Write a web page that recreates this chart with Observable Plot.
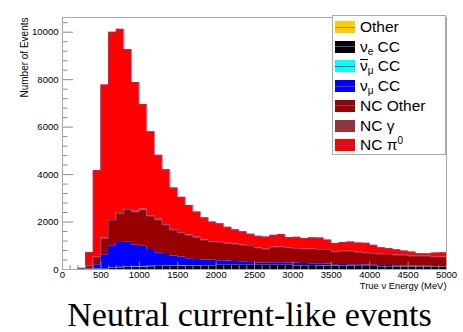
<!DOCTYPE html>
<html>
<head>
<meta charset="utf-8">
<script src="https://cdn.jsdelivr.net/npm/d3@7"></script>
<script src="https://cdn.jsdelivr.net/npm/@observablehq/plot@0.6"></script>
<style>
  body { margin: 0; background: #fff; }
  #wrap { position: relative; width: 463px; height: 332px; font-family: "Liberation Sans", Arial, sans-serif; color: #000; }
  #chart svg { display: block; }
  #legend { position: absolute; left: 332px; top: 15px; width: 114px; height: 140px; border: 1px solid #aaa; background: #fff; box-sizing: border-box; }
  .row { position: absolute; left: 2px; height: 20px; display: flex; align-items: center; font-size: 15.5px; white-space: nowrap; }
  .sw { width: 20px; height: 12px; position: relative; margin-right: 5px; flex: none; }
  .sw::after { content: ""; position: absolute; left: 0; right: 0; top: 5.5px; height: 1px; background: var(--line); }
  .row sub { font-size: 10px; vertical-align: -3px; line-height: 0; }
  .row sup { font-size: 10px; vertical-align: 6px; line-height: 0; }
  .bar { display: inline-block; border-top: 1px solid #000; line-height: 11px; padding-top: 0; }
  #caption { position: absolute; top: 297px; left: 0; width: 463px; padding-left: 36px; box-sizing: border-box; text-align: center; font-family: "Liberation Serif", "DejaVu Serif", serif; font-size: 34px; line-height: 36px; }
</style>
</head>
<body>
<div id="wrap">
  <div id="chart"></div>
  <div id="legend"></div>
  <div id="caption">Neutral current-like events</div>
</div>
<script>
// Lower edges of the 100 MeV energy bins (0 – 5000 MeV)
const binLow = [
  0, 100, 200, 300, 400, 500, 600, 700, 800, 900,
  1000, 1100, 1200, 1300, 1400, 1500, 1600, 1700, 1800, 1900,
  2000, 2100, 2200, 2300, 2400, 2500, 2600, 2700, 2800, 2900,
  3000, 3100, 3200, 3300, 3400, 3500, 3600, 3700, 3800, 3900,
  4000, 4100, 4200, 4300, 4400, 4500, 4600, 4700, 4800, 4900
];
const binWidth = 100;

// Event counts per bin for each interaction category (bottom of the stack first)
const other = [
  0, 0, 0, 0, 0, 0, 0, 0, 0, 0,
  0, 0, 0, 0, 0, 0, 0, 0, 0, 0,
  0, 0, 0, 0, 0, 0, 0, 0, 0, 0,
  0, 0, 0, 0, 0, 0, 0, 0, 0, 0,
  0, 0, 0, 0, 0, 0, 0, 0, 0, 0
];
const nueCC = [
  0, 0, 0, 5, 15, 30, 50, 70, 90, 100,
  110, 120, 125, 130, 135, 140, 145, 150, 155, 160,
  165, 165, 170, 170, 170, 170, 165, 170, 170, 165,
  160, 160, 155, 150, 150, 140, 140, 135, 130, 130,
  125, 120, 115, 110, 110, 105, 100, 100, 95, 95
];
const numubarCC = [
  0, 0, 0, 2, 6, 12, 18, 20, 20, 20,
  20, 18, 16, 15, 14, 13, 12, 12, 11, 11,
  10, 10, 10, 10, 10, 9, 9, 9, 9, 9,
  9, 8, 8, 8, 8, 8, 8, 8, 7, 7,
  7, 7, 7, 7, 6, 6, 6, 6, 6, 6
];
const numuCC = [
  0, 0, 0, 23, 179, 578, 932, 1043, 1040, 899,
  855, 702, 567, 492, 417, 369, 296, 258, 234, 219,
  195, 179, 160, 150, 120, 91, 86, 101, 106, 96,
  91, 82, 82, 82, 72, 52, 62, 62, 58, 53,
  48, 43, 43, 43, 34, 34, 34, 29, 29, 24
];
const ncOther = [
  0, 0, 30, 120, 322, 680, 1060, 1217, 1370, 1391,
  1520, 1395, 1382, 1233, 1090, 1019, 978, 920, 831, 770,
  763, 736, 722, 689, 700, 630, 580, 650, 665, 636,
  617, 599, 615, 595, 605, 536, 554, 555, 527, 503,
  485, 467, 465, 434, 440, 407, 410, 415, 393, 395
];
const ncGamma = [
  0, 0, 0, 5, 20, 35, 45, 50, 50, 45,
  40, 35, 30, 28, 25, 22, 20, 18, 16, 15,
  14, 13, 12, 12, 11, 10, 10, 10, 10, 9,
  9, 9, 8, 8, 8, 8, 7, 7, 7, 7,
  6, 6, 6, 6, 6, 5, 5, 5, 5, 5
];
const ncPi0 = [
  0, 0, 20, 565, 3628, 6445, 7895, 7720, 6700, 5425,
  4405, 3530, 2690, 2302, 1749, 1477, 1249, 1062, 933, 825,
  783, 677, 596, 559, 479, 490, 520, 500, 520, 430,
  474, 452, 472, 487, 397, 356, 369, 393, 391, 410,
  349, 277, 244, 235, 184, 178, 110, 110, 167, 180
];

const seriesNames = ["Other", "νe CC", "ν̄μ CC", "νμ CC", "NC Other", "NC γ", "NC π0"];
const seriesColors = ["#ffcc00", "#000000", "#00ffff", "#0000ff", "#990000", "#993333", "#ff0000"];
const seriesValues = [other, nueCC, numubarCC, numuCC, ncOther, ncGamma, ncPi0];
const legendHtml = [
  "Other",
  "ν<sub>e</sub> CC",
  "<span class=\"bar\">ν</span><sub>μ</sub> CC",
  "ν<sub>μ</sub> CC",
  "NC Other",
  "NC γ",
  "NC π<sup>0</sup>"
];

// Axis ticks
const xMajor = [0, 500, 1000, 1500, 2000, 2500, 3000, 3500, 4000, 4500, 5000];
const yMajor = [0, 2000, 4000, 6000, 8000, 10000];
const xMinor = d3.range(0, 5001, 100).filter(v => v % 500 !== 0);
const yMinor = d3.range(0, 10401, 400).filter(v => v % 2000 !== 0);
const xLabel = "True ν Energy (MeV)";
const yLabel = "Number of Events";

// Step-shaped stacked areas: one point per bin edge, the last bin closed at 5000 MeV
const xEnd = binLow[binLow.length - 1] + binWidth;
const rows = [];
binLow.concat([xEnd]).forEach((lo, i) => {
  const j = Math.min(i, binLow.length - 1);
  seriesNames.forEach((s, k) => rows.push({x: lo, series: s, value: seriesValues[k][j]}));
});

// Histogram outlines on top of the NC Other layer and of the full stack
const outlined = ["NC Other", "NC π0"];
const outlineRows = [];
binLow.concat([xEnd]).forEach((lo, i) => {
  const j = Math.min(i, binLow.length - 1);
  let cum = 0;
  seriesNames.forEach((s, k) => {
    cum += seriesValues[k][j];
    if (outlined.includes(s)) outlineRows.push({x: lo, series: s, top: cum});
  });
});

const plain = d => String(d);
const axisGrey = "#8c8c8c";
const chart = Plot.plot({
  width: 463,
  height: 297,
  marginLeft: 62,
  marginRight: 17,
  marginTop: 17,
  marginBottom: 28,
  style: {fontFamily: "'Liberation Sans', Arial, sans-serif", fontSize: "9.5px", background: "#fff", color: "#000"},
  x: {domain: [0, 5000]},
  y: {domain: [0, 10620]},
  color: {domain: seriesNames, range: seriesColors},
  marks: [
    Plot.areaY(rows, {x: "x", y: "value", fill: "series", order: seriesNames, curve: "step-after"}),
    Plot.lineY(outlineRows, {x: "x", y: "top", z: "series", curve: "step-after", stroke: "#6a4f96", strokeWidth: 0.8, strokeOpacity: 0.85}),
    Plot.axisY(yMajor, {tickSize: -11, tickPadding: 15, tickFormat: plain, stroke: axisGrey, fontSize: 9.5, label: null}),
    Plot.axisY(yMinor, {tickSize: -5.5, tickFormat: () => "", stroke: axisGrey, label: null}),
    Plot.axisX(xMajor, {tickSize: -7.5, tickPadding: 9.5, tickFormat: plain, stroke: axisGrey, fontSize: 9.5, label: null}),
    Plot.axisX(xMinor, {tickSize: -3.8, tickFormat: () => "", stroke: axisGrey, label: null}),
    Plot.frame({stroke: "#a8a8a8"}),
    Plot.text([yLabel], {text: d => d, frameAnchor: "top-left", rotate: -90, textAnchor: "end", dx: -42, fontSize: 10}),
    Plot.text([xLabel], {text: d => d, frameAnchor: "bottom-right", textAnchor: "end", dy: 19.5, fontSize: 9.4})
  ]
});
document.getElementById("chart").appendChild(chart);

// Legend box (top entry = "Other", bottom = "NC π0")
const legend = document.getElementById("legend");
seriesNames.forEach((s, k) => {
  const row = document.createElement("div");
  row.className = "row";
  row.style.top = (1 + k * 19.7) + "px";
  const sw = document.createElement("span");
  sw.className = "sw";
  sw.style.background = seriesColors[k];
  sw.style.setProperty("--line", k === 0 ? "#b08a40" : "#5a4a8a");
  const label = document.createElement("span");
  label.innerHTML = legendHtml[k];
  row.appendChild(sw);
  row.appendChild(label);
  legend.appendChild(row);
});
</script>
</body>
</html>
